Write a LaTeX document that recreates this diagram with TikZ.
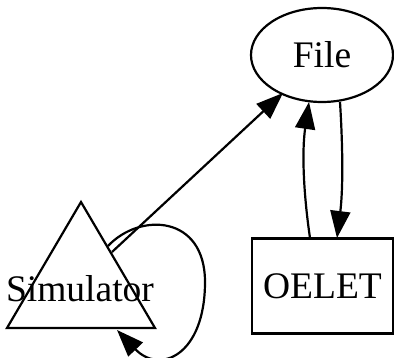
\documentclass[tikz,border=0pt]{standalone}
\usepackage{fontspec}
\setmainfont{Liberation Serif}
\usetikzlibrary{arrows.meta,shapes.geometric}
\begin{document}
\begin{tikzpicture}[x=1pt,y=-1pt, line width=2.2pt,
 edge/.style={draw, -{Triangle[length=27pt,width=20pt]}},
 lbl/.style={font=\fontsize{37.5}{42}\selectfont}]
\useasboundingbox (0,0) rectangle (394,358);
\node[draw, ellipse, minimum width=142pt, minimum height=94pt, inner sep=0pt, lbl] (file) at (322,55) {File};
\node[draw, rectangle, minimum width=141pt, minimum height=95pt, inner sep=0pt, lbl] (oelet) at (322.5,286) {OELET};
\draw (81,202) -- (155,328) -- (7,328) -- cycle;
\node[lbl, inner sep=0pt] (sim) at (80,289) {Simulator};
% Simulator -> File
\coordinate (s1) at (112,252);
\coordinate (f1) at (283,93);
\draw[edge] (s1) -- (f1);
% self loop
\coordinate (s2) at (108,246);
\coordinate (s3) at (117,330);
\draw[edge] (s2) .. controls (140,212) and (205,215) .. (205,282) .. controls (205,355) and (160,375) .. (s3);
% OELET -> File
\coordinate (o1) at (310,238);
\coordinate (f2) at (309,102);
\draw[edge] (o1) .. controls (303,190) and (302,150) .. (f2);
% File -> OELET
\coordinate (f3) at (340,102);
\coordinate (o2) at (337,238);
\draw[edge] (f3) .. controls (343,150) and (343,190) .. (o2);
\end{tikzpicture}
\end{document}
